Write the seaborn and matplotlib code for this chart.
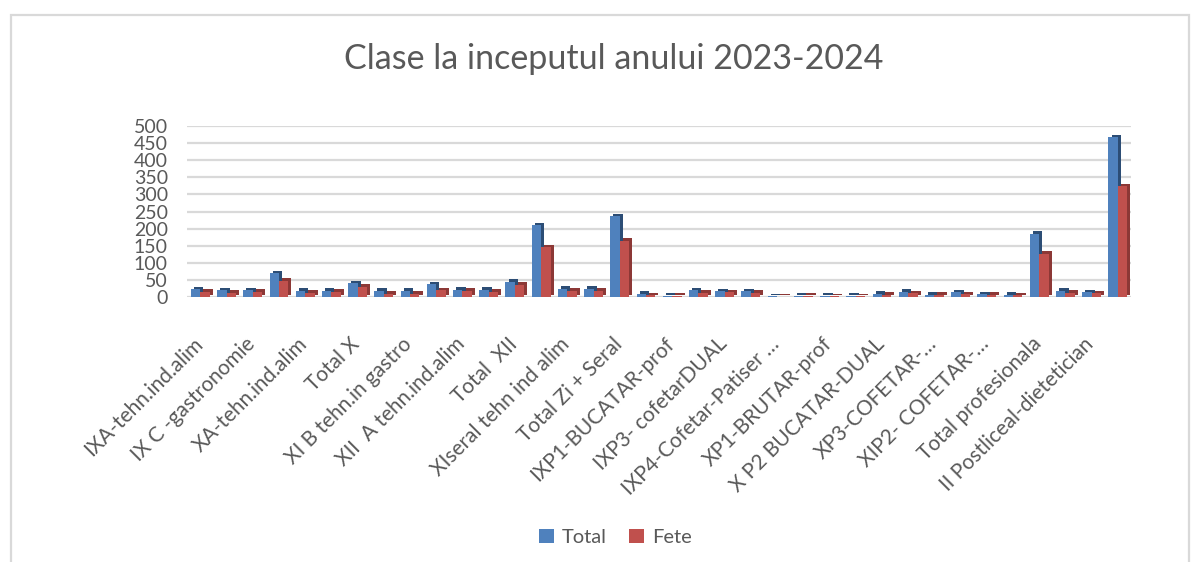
import matplotlib
matplotlib.use("Agg")
import matplotlib.pyplot as plt
import matplotlib.patheffects as pe
import matplotlib.transforms as mtrans
from matplotlib.patches import Rectangle
import seaborn as sns
import pandas as pd

categories = [
    "IXA-tehn.ind.alim", "IXB-tehn.ind.alim", "IX C -gastronomie", "Total IX",
    "XA-tehn.ind.alim", "XB-tehn.ind.alim", "Total X", "XI A tehn.ind.alim",
    "XI B tehn.in gastro", "Total XI", "XII  A tehn.ind.alim", "XII B tehn.in gastro",
    "Total  XII", "Total IX-XII", "XIseral tehn ind alim", "XIIseral tehn ind alim",
    "Total Zi + Seral", "IXP1-BUCATAR-DUAL", "IXP1-BUCATAR-prof", "IXP2-BUCATAR-DUAL",
    "IXP3- cofetarDUAL", "Total IXP", "IXP4-Cofetar-Patiser …", "IXP4-Cofetar-prof",
    "XP1-BRUTAR-prof", "XP1-BRUTAR-DUAL", "X P2 BUCATAR-DUAL", "Total XP",
    "XP3-COFETAR-…", "XIP1- BUCATAR-…", "XIP2- COFETAR-…", "Total XIP",
    "Total profesionala", "I Postliceal-dietetician", "II Postliceal-dietetician",
    "Total general",
]
total = [22, 20, 20, 70, 18, 18, 40, 18, 18, 38, 21, 21,
         45, 210, 24, 24, 236, 10, 4, 20, 17, 17, 2, 4,
         4, 3, 10, 15, 7, 14, 8, 6, 185, 18, 14, 467]
fete = [15, 12, 15, 47, 12, 16, 30, 10, 10, 20, 19, 15,
        36, 145, 19, 18, 165, 5, 3, 12, 14, 13, 1, 4,
        2, 2, 6, 11, 6, 8, 6, 5, 126, 12, 11, 324]
series_names = ["Total", "Fete"]
yticks = [0, 50, 100, 150, 200, 250, 300, 350, 400, 450, 500]

df = pd.DataFrame({
    "cat": categories * 2,
    "serie": [series_names[0]] * len(categories) + [series_names[1]] * len(categories),
    "val": total + fete,
})

sns.set_style("white")
plt.rcParams["font.family"] = ["Lato", "DejaVu Sans"]
txt = "#595959"

fig = plt.figure(figsize=(12, 5.62), dpi=100)
ax = fig.add_axes([0.156, 0.4715, 0.7865, 0.3043])

colors = {"Total": "#4F81BD", "Fete": "#C0504D"}
dark = {"Total": "#2C4D75", "Fete": "#8C3836"}
sns.barplot(data=df, x="cat", y="val", hue="serie", palette=colors,
            order=categories, hue_order=series_names, width=0.72,
            ax=ax, legend=True, saturation=1, linewidth=0)

for cont, name in zip(ax.containers, series_names):
    for bar in cont:
        bar.set_linewidth(0)
        bar.set_path_effects([
            pe.SimplePatchShadow(offset=(2.2, 1.8), shadow_rgbFace=dark[name], alpha=1),
            pe.Normal(),
        ])

ax.set_ylim(0, 500)
ax.set_xlim(-0.5, len(categories) - 0.5)
ax.set_yticks(yticks)
ax.set_yticklabels([str(v) for v in yticks], fontsize=14, color=txt)
ax.set_xticks(range(0, len(categories), 2))
ax.set_xticklabels(categories[::2], rotation=45, ha="right", va="top",
                   rotation_mode="anchor", fontsize=15, color=txt)
ax.tick_params(axis="x", length=0, pad=20)
ax.tick_params(axis="y", length=0, pad=14)
shift = mtrans.ScaledTranslation(-0.08, -0.09, fig.dpi_scale_trans)
for lbl in ax.get_xticklabels():
    lbl.set_transform(lbl.get_transform() + shift)
ax.set_xlabel("")
ax.set_ylabel("")
ax.yaxis.grid(True, color="#D9D9D9", linewidth=1.6)
ax.set_axisbelow(True)
for s in ax.spines.values():
    s.set_visible(False)

leg = ax.legend(loc="center", bbox_to_anchor=(0.513, 0.044),
                bbox_transform=fig.transFigure, ncol=2, frameon=False,
                fontsize=14.5, handlelength=0.75, handleheight=0.75,
                handletextpad=0.4, columnspacing=1.1)
for t in leg.get_texts():
    t.set_color(txt)

fig.text(0.511, 0.895, "Clase la inceputul anului 2023-2024", ha="center",
         va="center", fontsize=24.5, color=txt)

fig.patches.append(Rectangle((0.009, -0.02), 0.982, 0.993, transform=fig.transFigure,
                             fill=False, edgecolor="#D9D9D9", linewidth=1.6))

fig.savefig("out.png", dpi=100)
